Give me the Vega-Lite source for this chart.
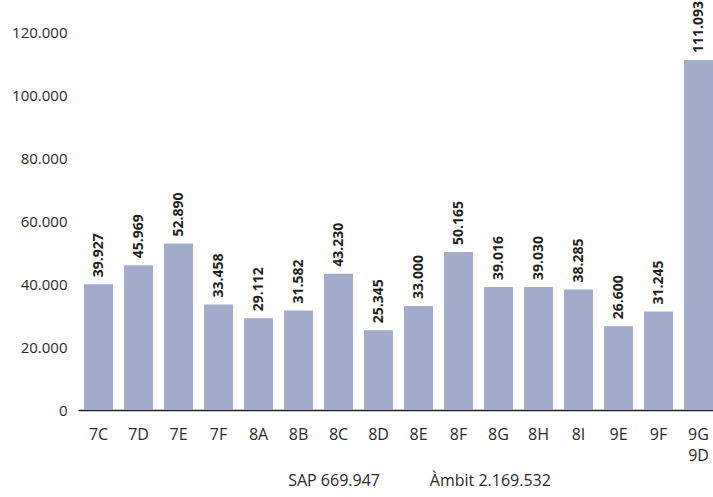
{
  "$schema": "https://vega.github.io/schema/vega-lite/v6.json",
  "width": 635,
  "height": 378,
  "autosize": {"type": "none"},
  "padding": {"left": 78, "top": 32, "right": 0, "bottom": 87},
  "background": "white",
  "config": {
    "locale": {"number": {"decimal": ",", "thousands": ".", "grouping": [3], "currency": ["", " €"]}},
    "view": {"stroke": null},
    "font": "Open Sans"
  },
  "data": {
    "values": [
      {"cat": "7C", "value": 39927},
      {"cat": "7D", "value": 45969},
      {"cat": "7E", "value": 52890},
      {"cat": "7F", "value": 33458},
      {"cat": "8A", "value": 29112},
      {"cat": "8B", "value": 31582},
      {"cat": "8C", "value": 43230},
      {"cat": "8D", "value": 25345},
      {"cat": "8E", "value": 33000},
      {"cat": "8F", "value": 50165},
      {"cat": "8G", "value": 39016},
      {"cat": "8H", "value": 39030},
      {"cat": "8I", "value": 38285},
      {"cat": "9E", "value": 26600},
      {"cat": "9F", "value": 31245},
      {"cat": "9G|9D", "value": 111093}
    ]
  },
  "encoding": {
    "x": {
      "field": "cat",
      "type": "nominal",
      "sort": null,
      "scale": {"paddingInner": 0.275, "paddingOuter": 0.075, "align": 1},
      "axis": {
        "labelAngle": 0,
        "labelExpr": "split(datum.label, '|')",
        "labelFont": "Open Sans",
        "labelFontSize": 16,
        "labelColor": "#2a2a2a",
        "labelPadding": 16,
        "labelLineHeight": 21,
        "ticks": false,
        "domain": true,
        "domainColor": "#222222",
        "domainWidth": 1.5,
        "grid": false,
        "title": "SAP 669.947\u00a0\u00a0\u00a0\u00a0\u00a0\u00a0\u00a0\u00a0\u00a0\u00a0\u00a0\u00a0Àmbit 2.169.532",
        "titleFont": "Open Sans",
        "titleFontSize": 16,
        "titleFontWeight": "normal",
        "titleColor": "#2a2a2a",
        "titlePadding": 9,
        "titleX": 341,
        "titleAlign": "center"
      }
    },
    "y": {
      "field": "value",
      "type": "quantitative",
      "scale": {"domain": [0, 120000], "nice": false},
      "axis": {
        "values": [0, 20000, 40000, 60000, 80000, 100000, 120000],
        "format": ",d",
        "labelFont": "Open Sans",
        "labelFontSize": 15,
        "labelColor": "#2a2a2a",
        "labelPadding": 11,
        "ticks": false,
        "domain": false,
        "grid": false,
        "title": null
      }
    }
  },
  "layer": [
    {"mark": {"type": "bar", "color": "#a2abcc"}},
    {
      "mark": {
        "type": "text",
        "angle": 270,
        "align": "left",
        "baseline": "middle",
        "dx": 7,
        "font": "Open Sans",
        "fontSize": 14,
        "fontWeight": "bold",
        "color": "#1f1f1f"
      },
      "encoding": {"text": {"field": "value", "type": "quantitative", "format": ",d"}}
    }
  ]
}
